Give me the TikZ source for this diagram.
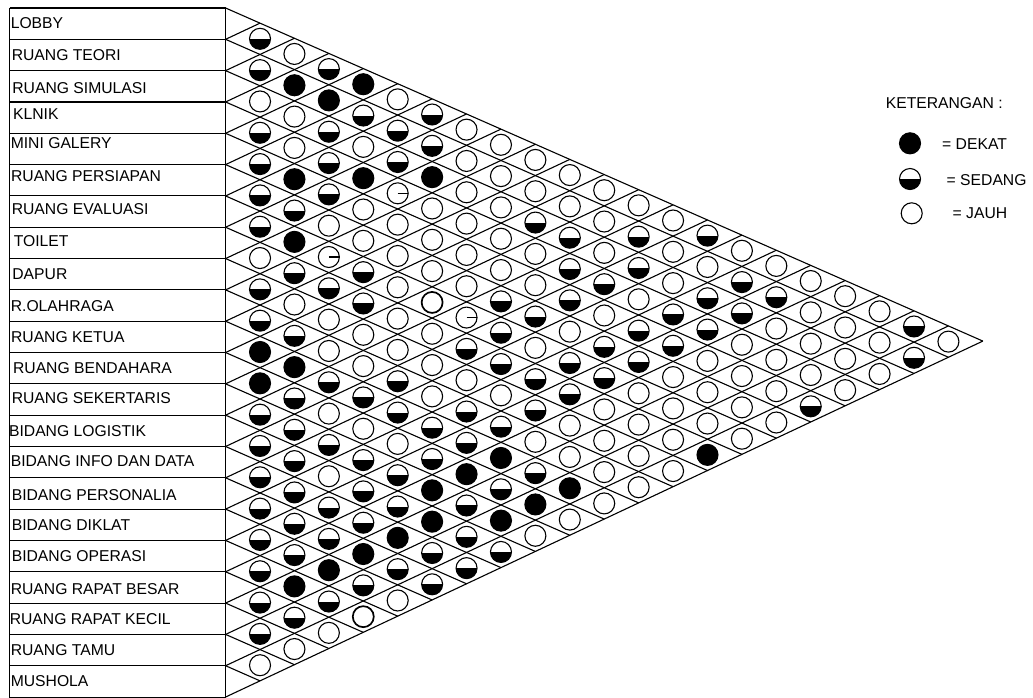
\documentclass[tikz,border=0pt]{standalone}
\usepackage{fontspec}
\setmainfont{Liberation Sans}
\begin{document}
\begin{tikzpicture}[x=1pt,y=-1pt,
  cell/.style={circle, draw=black, line width=1.1pt, minimum size=21pt, inner sep=0pt, fill=white},
  cellW/.style={cell},
  cellT/.style={cell, line width=1.7pt},
  cellB/.style={cell, fill=black},
  cellH/.style={cell, path picture={\fill[black] (path picture bounding box.west) rectangle (path picture bounding box.south east);}},
  cellL/.style={cell, path picture={\draw[line width=1.1pt] (path picture bounding box.center) -- (path picture bounding box.east);}},
  gridline/.style={line width=1.1pt, black},
  lbl/.style={anchor=base west, inner sep=0pt, font=\fontsize{15.7}{18}\selectfont},
]
\useasboundingbox (0,0) rectangle (1033,697);

% table on the left
\foreach \b in {0,...,22} {
  \draw[gridline] (9.5,{8+31.32*\b}) -- (225.6,{8+31.32*\b});
}
\draw[gridline] (9.5,8) -- (9.5,697.5);

% labels
\node[lbl] (r1) at (10.6,28.3) {LOBBY};
\node[lbl] (r2) at (11.6,60.0) {RUANG TEORI};
\node[lbl] (r3) at (12.2,93.0) {RUANG SIMULASI};
\node[lbl] (r4) at (12.9,119.3) {KLNIK};
\node[lbl] (r5) at (10.6,148.3) {MINI GALERY};
\node[lbl] (r6) at (10.9,181.6) {RUANG PERSIAPAN};
\node[lbl] (r7) at (11.6,214.1) {RUANG EVALUASI};
\node[lbl] (r8) at (13.6,246.3) {TOILET};
\node[lbl] (r9) at (12.2,279.6) {DAPUR};
\node[lbl] (r10) at (10.6,311.3) {R.OLAHRAGA};
\node[lbl] (r11) at (10.9,342.0) {RUANG KETUA};
\node[lbl] (r12) at (12.9,373.3) {RUANG BENDAHARA};
\node[lbl] (r13) at (11.6,403.3) {RUANG SEKERTARIS};
\node[lbl] (r14) at (8.9,436.6) {BIDANG LOGISTIK};
\node[lbl] (r15) at (10.6,466.6) {BIDANG INFO DAN DATA};
\node[lbl] (r16) at (11.6,500.0) {BIDANG PERSONALIA};
\node[lbl] (r17) at (11.6,530.0) {BIDANG DIKLAT};
\node[lbl] (r18) at (11.6,561.6) {BIDANG OPERASI};
\node[lbl] (r19) at (10.6,594.1) {RUANG RAPAT BESAR};
\node[lbl] (r20) at (9.6,624.1) {RUANG RAPAT KECIL};
\node[lbl] (r21) at (10.6,655.3) {RUANG TAMU};
\node[lbl] (r22) at (10.6,686.6) {MUSHOLA};

% triangular relationship matrix
\begin{scope}[shift={(225.6,8.0)}, x={(34.42pt,0.52pt)}, y={(0pt,-15.66pt)}]
  \draw[gridline] (0,0) -- (0,44);
  \foreach \b in {0,...,22} {
    \draw[gridline] (0,{2*\b}) -- ({22-\b},{22+\b});
    \draw[gridline] (0,{2*\b}) -- (\b,\b);
  }
  \foreach \m/\codes in {
    1/{H}, 2/{W}, 3/{H,H}, 4/{B,B}, 5/{W,B,W}, 6/{W,H,H},
    7/{H,H,H,W}, 8/{W,W,H,W}, 9/{H,H,H,W,W}, 10/{B,B,B,W,W},
    11/{H,H,L,W,W,W}, 12/{H,W,W,W,W,W}, 13/{H,W,W,W,H,W,W},
    14/{B,W,W,W,H,H,H}, 15/{W,L,W,W,W,W,W,W}, 16/{H,H,W,W,H,H,W,W},
    17/{H,H,W,W,W,H,W,H,W}, 18/{W,H,T,H,H,W,H,H,W},
    19/{H,W,W,L,H,W,H,H,W,W}, 20/{H,W,W,H,W,H,H,W,W,H},
    21/{B,W,W,H,W,H,H,W,W,W,W}, 22/{B,W,W,H,H,H,W,W,W,H},
    23/{B,H,H,W,H,H,W,W,W,W}, 24/{H,H,W,W,H,W,W,W,W},
    25/{H,W,H,H,H,W,W,W,H}, 26/{H,W,H,H,W,W,W,W},
    27/{H,H,W,H,W,W,W,W}, 28/{H,H,H,B,W,W,B}, 29/{H,W,H,B,H,W,W},
    30/{H,H,B,H,B,W}, 31/{H,H,H,H,B,W}, 32/{H,H,B,B,W},
    33/{H,H,B,H,W}, 34/{H,B,H,H}, 35/{H,B,H,H}, 36/{B,H,H},
    37/{H,H,W}, 38/{H,T}, 39/{H,W}, 40/{W}, 41/{W}} {
    \foreach \c [count=\n] in \codes {
      \pgfmathtruncatemacro\k{2*\n-mod(\m,2)}
      \pgfmathtruncatemacro\s{\m+1}
      \node[cell\c] (c-\k-\s) at (\k,\s) {};
    }
  }
\end{scope}

% legend
\node[lbl] (ket) at (885.6,108.3) {KETERANGAN :};
\node[cellB] (lgB) at (910,143.3) {};
\node[cellH] (lgH) at (910,179) {};
\node[cellW] (lgW) at (911.7,213.3) {};
\node[lbl] (tB) at (942.0,149.3) {= DEKAT};
\node[lbl] (tH) at (946.5,185.0) {= SEDANG};
\node[lbl] (tW) at (952.5,218.3) {= JAUH};
\end{tikzpicture}
\end{document}
